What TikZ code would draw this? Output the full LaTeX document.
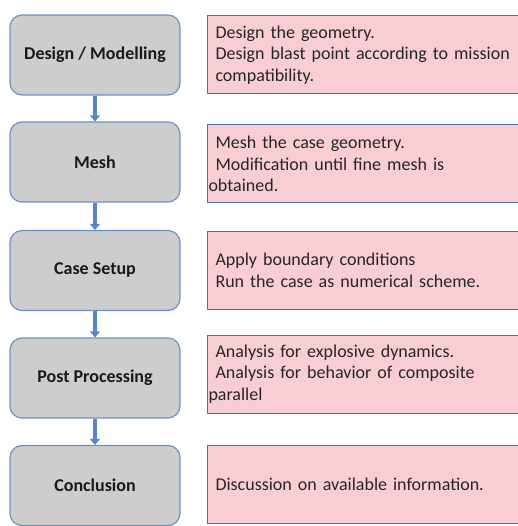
\documentclass[tikz,border=0pt]{standalone}
\usepackage{fontspec}
\setmainfont{Carlito}
\usetikzlibrary{arrows.meta}
\definecolor{stepgray}{RGB}{205,205,205}
\definecolor{stepblue}{RGB}{108,145,200}
\definecolor{notepink}{RGB}{248,206,212}
\definecolor{noteblue}{RGB}{80,112,170}
\definecolor{flowblue}{RGB}{88,134,196}
\newcommand{\FS}{\fontsize{18}{21.5}\selectfont}
\newcommand{\Ind}{\hspace*{7pt}}

\begin{document}
\begin{tikzpicture}[x=1pt,y=-1pt]
\tikzstyle{stage}=[draw=stepblue,fill=stepgray,line width=1.2pt,rounded corners=12pt,minimum width=170pt,minimum height=80pt,font=\FS\bfseries,text=black!90]
\tikzstyle{note}=[draw=noteblue,fill=notepink,line width=1pt,anchor=west,text width=320pt,inner xsep=1pt,minimum height=78pt,align=left,font=\FS,text=black!85]
\tikzstyle{flow}=[flowblue,line width=4pt,-{Triangle[length=6pt,width=10pt]}]

\useasboundingbox (0,0) rectangle (517,526);

% steps on the left
\node[stage] (design) at (95,55)    {Design / Modelling};
\node[stage] (mesh)   at (95,162)   {Mesh};
\node[stage] (setup)  at (95,270.5) {Case Setup};
\node[stage] (post)   at (95,378)   {Post Processing};
\node[stage] (concl)  at (95,485.5) {Conclusion};

% notes on the right
\node[note] (designtxt) at (207,55)    {\Ind Design the geometry.\\ \Ind Design blast point according to mission\\ \Ind compatibility.};
\node[note] (meshtxt)   at (207,164)   {\Ind Mesh the case geometry.\\ \Ind Modification until fine mesh is\\ obtained.};
\node[note] (setuptxt)  at (207,270.5) {\Ind Apply boundary conditions\\ \Ind Run the case as numerical scheme.};
\node[note] (posttxt)   at (207,374)   {\Ind Analysis for explosive dynamics.\\ \Ind Analysis for behavior of composite\\ parallel};
\node[note] (concltxt)  at (207,484.5) {\Ind Discussion on available information.};

\draw[flow] (design) -- (mesh);
\draw[flow] (mesh) -- (setup);
\draw[flow] (setup) -- (post);
\draw[flow] (post) -- (concl);
\end{tikzpicture}
\end{document}
